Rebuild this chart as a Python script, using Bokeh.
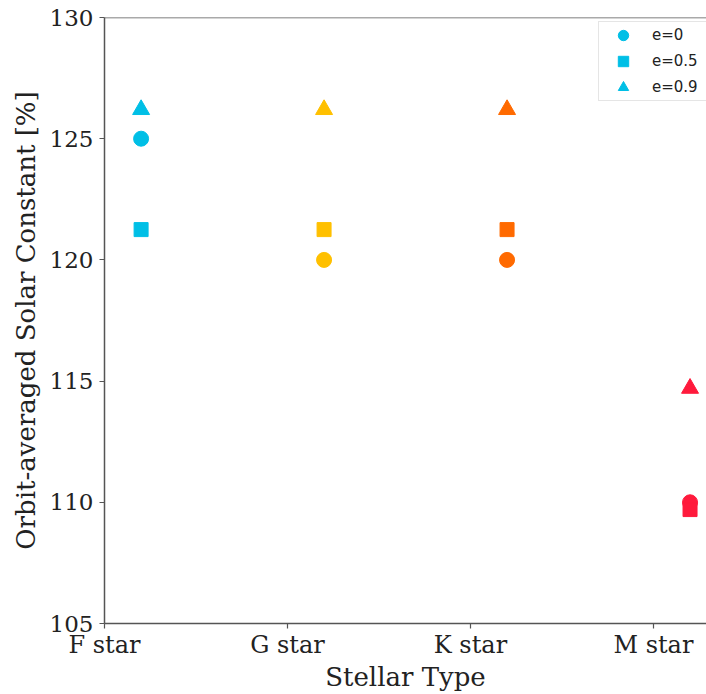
from bokeh.plotting import figure
from bokeh.models import Range1d, FixedTicker, Span, Legend, LegendItem
from bokeh.embed import file_html
from bokeh.resources import INLINE

stars = ["F star", "G star", "K star", "M star"]
colors = ["#00BFE6", "#FFC000", "#FF6A00", "#FF1A3C"]
e00 = [125.0, 120.0, 120.0, 110.0]
e05 = [121.25, 121.25, 121.25, 109.7]
e09 = [126.2, 126.2, 126.2, 114.7]
labels = ["e=0", "e=0.5", "e=0.9"]

p = figure(width=706, height=694, output_backend="svg", toolbar_location=None,
           x_range=Range1d(0, 3.29), y_range=Range1d(105, 130),
           min_border_left=104, min_border_right=0, min_border_top=17, min_border_bottom=69)
p.outline_line_color = None
p.grid.grid_line_color = None
p.background_fill_color = "white"
p.border_fill_color = "white"

offset = 0.2
xs = [i + offset for i in range(len(stars))]

rend = {0: [], 1: [], 2: []}
for i in range(len(stars)):
    r0 = p.scatter([xs[i]], [e00[i]], marker="circle", size=15, color=colors[i])
    r1 = p.scatter([xs[i]], [e05[i]], marker="square", size=14, color=colors[i])
    r2 = p.scatter([xs[i]], [e09[i]], marker="triangle", size=17, color=colors[i])
    rend[0].append(r0); rend[1].append(r1); rend[2].append(r2)

axis_color = "#555555"
for ax in (p.xaxis[0], p.yaxis[0]):
    ax.axis_line_color = axis_color
    ax.axis_line_width = 1.5
    ax.major_tick_line_color = axis_color
    ax.major_tick_line_width = 1.2
    ax.major_tick_out = 5
    ax.major_tick_in = 0
    ax.minor_tick_line_color = None
    ax.major_label_text_font = "DejaVu Serif"
    ax.major_label_text_font_size = "23px"
    ax.major_label_text_color = "#222222"
    ax.axis_label_text_font = "DejaVu Serif"
    ax.axis_label_text_font_size = "26px"
    ax.axis_label_text_font_style = "normal"
    ax.axis_label_text_color = "#222222"

p.xaxis.ticker = FixedTicker(ticks=list(range(len(stars))))
p.xaxis.major_label_overrides = {i: s for i, s in enumerate(stars)}
p.xaxis.major_label_text_font_size = "24px"
p.xaxis.axis_label = "Stellar Type"
p.xaxis.major_label_standoff = 2
p.xaxis.axis_label_standoff = 0

p.yaxis.ticker = FixedTicker(ticks=[105, 110, 115, 120, 125, 130])
p.yaxis.axis_label = "Orbit-averaged Solar Constant [%]"
p.yaxis.major_label_standoff = 6
p.yaxis.axis_label_standoff = 6

p.add_layout(Span(location=130, dimension="width", line_color=axis_color, line_width=1.5))

legend = Legend(items=[LegendItem(label=labels[k], renderers=[rend[k][0]]) for k in range(3)],
                location=(494, 522))
legend.label_text_font = "DejaVu Sans"
legend.label_text_font_size = "15px"
legend.label_text_color = "#222222"
legend.glyph_width = 48
legend.glyph_height = 26
legend.label_width = 55
legend.spacing = 0
legend.padding = 0
legend.margin = 0
legend.label_standoff = 5
legend.border_line_color = "#cccccc"
legend.border_line_width = 1
legend.background_fill_alpha = 0.9
p.add_layout(legend, "center")

open("out.html", "w").write(file_html(p, INLINE))
